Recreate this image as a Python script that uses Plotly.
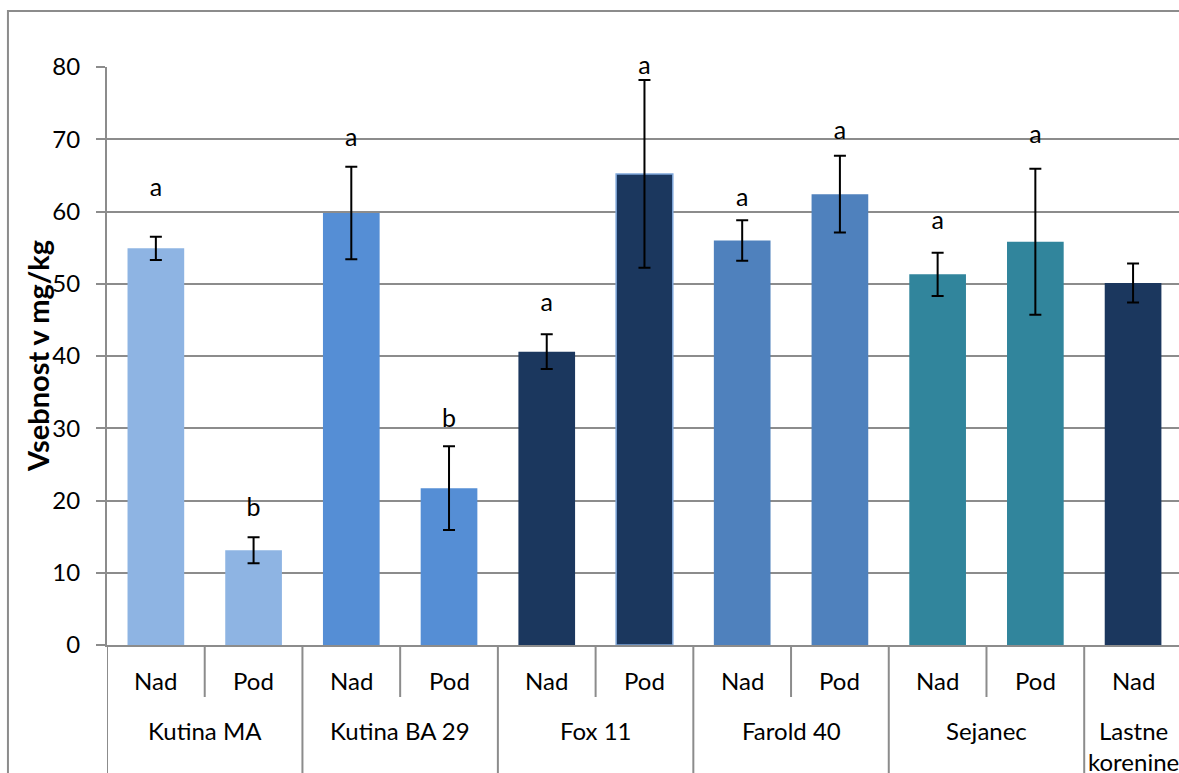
import plotly.graph_objects as go

# Rootstock groups and sampling position
groups = ["Kutina MA", "Kutina MA", "Kutina BA 29", "Kutina BA 29", "Fox 11", "Fox 11",
          "Farold 40", "Farold 40", "Sejanec", "Sejanec", "Lastne<br>korenine"]
positions = ["Nad", "Pod", "Nad", "Pod", "Nad", "Pod", "Nad", "Pod", "Nad", "Pod", "Nad"]

# Mean content (mg/kg) and standard error
means = [54.9, 13.1, 59.8, 21.7, 40.6, 65.2, 56.0, 62.4, 51.3, 55.8, 50.1]
errors = [1.6, 1.8, 6.4, 5.8, 2.4, 13.0, 2.8, 5.3, 3.0, 10.1, 2.7]

# Significance letters and the height at which each is written
letters = ["a", "b", "a", "b", "a", "a", "a", "a", "a", "a", ""]
letter_y = [63.0, 18.7, 69.9, 31.1, 47.1, 79.9, 61.6, 70.9, 58.5, 70.4, None]

y_ticks = [0, 10, 20, 30, 40, 50, 60, 70, 80]

group_colors = {
    "Kutina MA": "#8EB4E3",
    "Kutina BA 29": "#558ED5",
    "Fox 11": "#1B375E",
    "Farold 40": "#4F81BD",
    "Sejanec": "#31859C",
    "Lastne<br>korenine": "#1B375E",
}
bar_colors = [group_colors[g] for g in groups]
outline_colors = ["rgba(0,0,0,0)"] * len(groups)
outline_colors[5] = "#7FA7DA"

FONT = "Lato"
GRID = "#8C8C8C"
TXT = 24

fig = go.Figure()
fig.add_trace(go.Bar(
    x=[groups, positions],
    y=means,
    marker=dict(color=bar_colors, line=dict(color=outline_colors, width=1.5)),
    error_y=dict(type="data", array=errors, visible=True, color="black",
                 thickness=2, width=6),
    showlegend=False,
))
fig.add_trace(go.Scatter(
    x=[groups, positions],
    y=letter_y,
    mode="text",
    text=letters,
    textfont=dict(family=FONT, size=TXT + 1, color="black"),
    cliponaxis=False,
    showlegend=False,
    hoverinfo="skip",
))

# Category labels and separators below the axis
annotations = []
shapes = []
for i, p in enumerate(positions):
    annotations.append(dict(
        text=p, x=i, y=0, xref="x", yref="y",
        yanchor="middle", yshift=-35, showarrow=False,
        font=dict(family=FONT, size=TXT, color="black"),
    ))
    new_group = i == 0 or groups[i] != groups[i - 1]
    if new_group:
        size = groups.count(groups[i])
        annotations.append(dict(
            text=groups[i], x=i + (size - 1) / 2, y=0, xref="x", yref="y",
            yanchor="top", yshift=-69, showarrow=False,
            font=dict(family=FONT, size=TXT, color="black"),
        ))
    shapes.append(dict(
        type="line", xref="x", yref="paper",
        x0=i - 0.5, x1=i - 0.5, y0=0, y1=-0.5 if new_group else -0.09,
        line=dict(color=GRID, width=2),
    ))

annotations.append(dict(
    text="<b>Vsebnost v mg/kg</b>",
    xref="paper", yref="paper", x=0, y=0.5,
    xshift=-70, textangle=-90,
    xanchor="center", yanchor="middle",
    showarrow=False,
    font=dict(family=FONT, size=29, color="black"),
))
# Outer chart frame
shapes.append(dict(
    type="rect", xref="paper", yref="paper",
    x0=-0.0924, x1=1.05, y0=-0.5, y1=1.0969,
    line=dict(color=GRID, width=2),
    layer="below",
))

fig.update_layout(
    width=1179,
    height=773,
    margin=dict(l=107, r=0, t=67, b=128),
    paper_bgcolor="white",
    plot_bgcolor="white",
    bargap=0.42,
    font=dict(family=FONT, size=TXT, color="black"),
    xaxis=dict(
        type="multicategory",
        range=[-0.5, 10.47],
        showdividers=False,
        showticklabels=False,
        ticks="",
        showline=True,
        linecolor=GRID,
        linewidth=2,
        showgrid=False,
    ),
    yaxis=dict(
        range=[0, 80],
        tickvals=y_ticks,
        showgrid=True,
        gridcolor=GRID,
        gridwidth=2,
        zeroline=False,
        showline=True,
        linecolor=GRID,
        linewidth=2,
        ticks="outside",
        ticklen=9,
        tickcolor=GRID,
        tickwidth=2,
        ticklabelstandoff=11,
        tickfont=dict(family=FONT, size=TXT, color="black"),
    ),
    annotations=annotations,
    shapes=shapes,
)

fig.write_html("out.html")
